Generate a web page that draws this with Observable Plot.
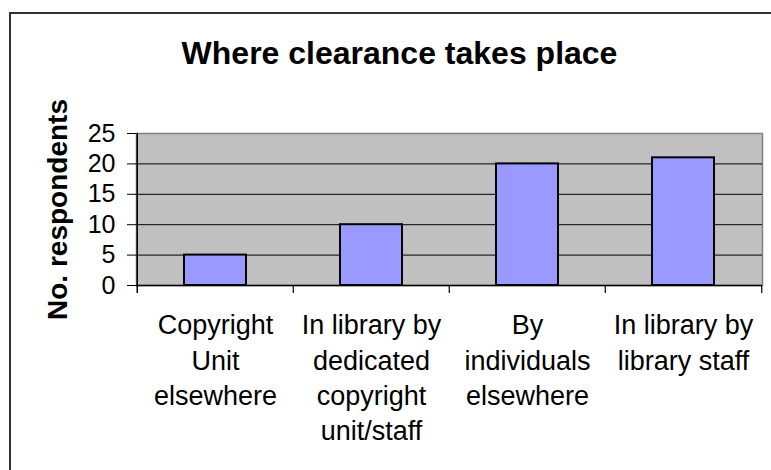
<!DOCTYPE html>
<html>
<head>
<meta charset="utf-8">
<script src="https://cdn.jsdelivr.net/npm/d3@7"></script>
<script src="https://cdn.jsdelivr.net/npm/@observablehq/plot@0.6"></script>
<style>
  html, body { margin: 0; padding: 0; background: #fff; }
  #wrap { position: relative; width: 771px; height: 470px; overflow: hidden; font-family: "Liberation Sans", Arial, sans-serif; }
  #frame { position: absolute; left: 9px; top: 12px; width: 800px; height: 520px; border: 2px solid #333; box-sizing: border-box; pointer-events: none; }
  #title { position: absolute; left: 0; top: 37px; width: 771px; padding-left: 28px; box-sizing: border-box; text-align: center; font-size: 32px; line-height: 32px; font-weight: bold; color: #000; }
  #chart { position: absolute; left: 0; top: 0; }
</style>
</head>
<body>
<div id="wrap">
  <div id="chart"></div>
  <div id="frame"></div>
  <div id="title">Where clearance takes place</div>
</div>
<script>
const categories = [
  "Copyright\nUnit\nelsewhere",
  "In library by\ndedicated\ncopyright\nunit/staff",
  "By\nindividuals\nelsewhere",
  "In library by\nlibrary staff"
];
const values = [5, 10, 20, 21];
const yTicks = [0, 5, 10, 15, 20, 25];
const gridValues = [5, 10, 15, 20];
const yLabel = "No. respondents";

const data = categories.map((c, i) => ({cat: c, value: values[i]}));

const W = 771, H = 470, mL = 136, mR = 9, mT = 133, mB = 185;
const step = (W - mL - mR) / categories.length;

const chart = Plot.plot({
  width: W,
  height: H,
  marginLeft: mL,
  marginRight: mR,
  marginTop: mT,
  marginBottom: mB,
  style: {fontFamily: "'Liberation Sans', Arial, sans-serif", color: "#000", background: "transparent"},
  x: {domain: categories, paddingInner: 0.6, paddingOuter: 0.3, label: null},
  y: {domain: [0, 25], label: null},
  marks: [
    Plot.frame({fill: "#c0c0c0", stroke: "#808080", strokeWidth: 1.5}),
    Plot.gridY(gridValues, {stroke: "#000", strokeOpacity: 1, strokeWidth: 1}),
    Plot.barY(data, {x: "cat", y: "value", fill: "#9999ff", stroke: "#000", strokeWidth: 2}),
    Plot.ruleY([0], {stroke: "#000", strokeWidth: 1.5}),
    // left axis line with lower tick
    Plot.ruleX([categories[0]], {x: d => d, y1: 25, y2: -1.3, dx: -step / 2, stroke: "#000", strokeWidth: 1.5, clip: false}),
    // category boundary ticks
    Plot.ruleX(categories.slice(1), {x: d => d, y1: 0, y2: -1.3, dx: -step / 2, stroke: "#000", strokeWidth: 1.2, clip: false}),
    Plot.ruleX([categories[categories.length - 1]], {x: d => d, y1: 0, y2: -1.3, dx: step / 2, stroke: "#000", strokeWidth: 1.2, clip: false}),
    Plot.axisY({
      ticks: yTicks,
      tickSize: 9,
      tickPadding: 12,
      fontSize: 25,
      stroke: "#000",
      label: yLabel,
      labelAnchor: "center",
      labelArrow: "none",
      labelOffset: 89
    }),
    Plot.axisX({
      tickSize: 0,
      tickPadding: 24,
      fontSize: 27,
      lineHeight: 1.3,
      label: null
    })
  ]
});

// bold y label
chart.querySelectorAll("[aria-label='y-axis label'] text, [aria-label='y-axis label']").forEach(el => {
  el.setAttribute("font-weight", "bold");
  el.setAttribute("font-size", "28");
});

document.getElementById("chart").appendChild(chart);
</script>
</body>
</html>
